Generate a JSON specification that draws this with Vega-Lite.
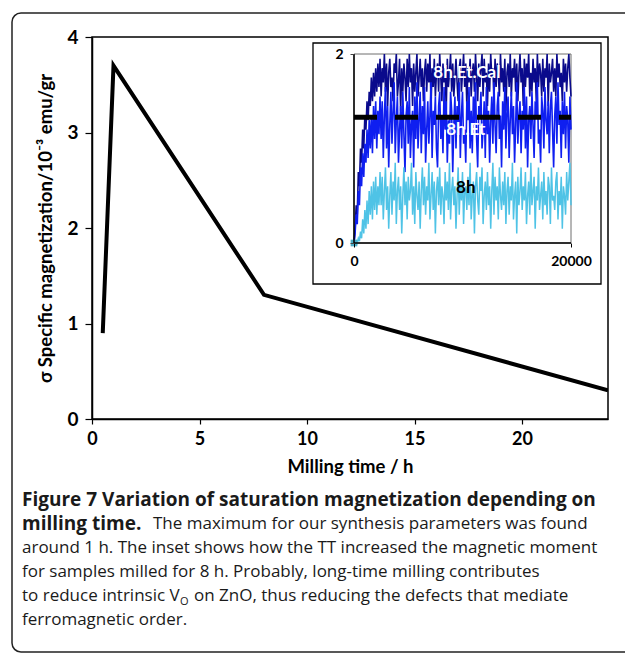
{
  "$schema": "https://vega.github.io/schema/vega-lite/v6.json",
  "width": 516,
  "height": 382,
  "autosize": {"type": "none"},
  "padding": {"left": 92, "top": 37, "right": 17, "bottom": 237},
  "background": "white",
  "config": {
    "view": {"stroke": "black", "strokeWidth": 1.5},
    "font": "Lato",
    "text": {"font": "Lato"}
  },
  "datasets": {
    "main": [
      {"hours": 0.5, "sigma": 0.9},
      {"hours": 1, "sigma": 3.7},
      {"hours": 8, "sigma": 1.3},
      {"hours": 24, "sigma": 0.3}
    ],
    "inset": [
      {"t": 0, "cal": 0, "et": 0, "h": 0},
      {"t": 100, "cal": 0.15, "et": 0.1, "h": 0},
      {"t": 200, "cal": 0.4, "et": 0.3, "h": 0.02},
      {"t": 300, "cal": 0.3, "et": 0.2, "h": 0},
      {"t": 400, "cal": 0.75, "et": 0.55, "h": 0.05},
      {"t": 500, "cal": 0.6, "et": 0.4, "h": 0.02},
      {"t": 600, "cal": 1.0, "et": 0.8, "h": 0.12},
      {"t": 700, "cal": 0.85, "et": 0.6, "h": 0.05},
      {"t": 800, "cal": 1.2, "et": 0.95, "h": 0.25},
      {"t": 900, "cal": 1.0, "et": 0.7, "h": 0.1},
      {"t": 1000, "cal": 1.35, "et": 1.05, "h": 0.35},
      {"t": 1100, "cal": 1.2, "et": 0.85, "h": 0.15},
      {"t": 1200, "cal": 1.5, "et": 1.2, "h": 0.45},
      {"t": 1300, "cal": 1.3, "et": 0.9, "h": 0.2},
      {"t": 1400, "cal": 1.6, "et": 1.3, "h": 0.55},
      {"t": 1500, "cal": 1.45, "et": 1.0, "h": 0.3},
      {"t": 1600, "cal": 1.75, "et": 1.35, "h": 0.6},
      {"t": 1700, "cal": 1.5, "et": 0.95, "h": 0.25},
      {"t": 1800, "cal": 1.8, "et": 1.45, "h": 0.65},
      {"t": 1900, "cal": 1.55, "et": 1.1, "h": 0.35},
      {"t": 2000, "cal": 1.85, "et": 1.5, "h": 0.7},
      {"t": 2100, "cal": 1.6, "et": 1.0, "h": 0.3},
      {"t": 2200, "cal": 1.9, "et": 1.4, "h": 0.6},
      {"t": 2300, "cal": 1.65, "et": 1.15, "h": 0.4},
      {"t": 2400, "cal": 1.95, "et": 1.55, "h": 0.75},
      {"t": 2500, "cal": 1.55, "et": 1.1, "h": 0.4},
      {"t": 2600, "cal": 1.85, "et": 1.5, "h": 0.7},
      {"t": 2700, "cal": 1.7, "et": 0.9, "h": 0.25},
      {"t": 2800, "cal": 2.0, "et": 1.35, "h": 0.55},
      {"t": 2900, "cal": 1.6, "et": 1.65, "h": 0.8},
      {"t": 3000, "cal": 1.9, "et": 1.0, "h": 0.35},
      {"t": 3100, "cal": 1.45, "et": 1.45, "h": 0.6},
      {"t": 3200, "cal": 1.8, "et": 0.8, "h": 0.15},
      {"t": 3300, "cal": 1.95, "et": 1.25, "h": 0.5},
      {"t": 3400, "cal": 1.65, "et": 1.6, "h": 0.75},
      {"t": 3500, "cal": 1.75, "et": 1.05, "h": 0.3},
      {"t": 3600, "cal": 1.5, "et": 1.4, "h": 0.65},
      {"t": 3700, "cal": 1.9, "et": 1.7, "h": 0.45},
      {"t": 3800, "cal": 1.8, "et": 0.95, "h": 0.85},
      {"t": 3900, "cal": 2.0, "et": 1.3, "h": 0.2},
      {"t": 4000, "cal": 1.55, "et": 1.55, "h": 0.55},
      {"t": 4100, "cal": 1.7, "et": 0.85, "h": 0.7},
      {"t": 4200, "cal": 1.95, "et": 1.2, "h": 0.35},
      {"t": 4300, "cal": 1.4, "et": 1.45, "h": 0.6},
      {"t": 4400, "cal": 1.85, "et": 1.0, "h": 0.1},
      {"t": 4500, "cal": 1.6, "et": 1.6, "h": 0.5},
      {"t": 4600, "cal": 1.9, "et": 1.15, "h": 0.8},
      {"t": 4700, "cal": 1.75, "et": 0.75, "h": 0.4},
      {"t": 4800, "cal": 1.5, "et": 1.35, "h": 0.65},
      {"t": 4900, "cal": 1.95, "et": 1.5, "h": 0.25},
      {"t": 5000, "cal": 1.65, "et": 1.05, "h": 0.7},
      {"t": 5100, "cal": 2.0, "et": 1.65, "h": 0.45},
      {"t": 5200, "cal": 1.7, "et": 0.9, "h": 0.55},
      {"t": 5300, "cal": 1.85, "et": 1.25, "h": 0.85},
      {"t": 5400, "cal": 1.45, "et": 1.4, "h": 0.3},
      {"t": 5500, "cal": 1.9, "et": 0.8, "h": 0.6},
      {"t": 5600, "cal": 1.6, "et": 1.55, "h": 0.2},
      {"t": 5700, "cal": 1.8, "et": 1.1, "h": 0.75},
      {"t": 5800, "cal": 2.0, "et": 1.7, "h": 0.5},
      {"t": 5900, "cal": 1.55, "et": 1.0, "h": 0.35},
      {"t": 6000, "cal": 1.75, "et": 1.3, "h": 0.65},
      {"t": 6100, "cal": 1.95, "et": 1.6, "h": 0.15},
      {"t": 6200, "cal": 1.65, "et": 0.95, "h": 0.55},
      {"t": 6300, "cal": 1.85, "et": 1.45, "h": 0.8},
      {"t": 6400, "cal": 1.5, "et": 1.15, "h": 0.4},
      {"t": 6500, "cal": 1.8, "et": 1.65, "h": 0.7},
      {"t": 6600, "cal": 1.95, "et": 0.85, "h": 0.3},
      {"t": 6700, "cal": 1.6, "et": 1.2, "h": 0.6},
      {"t": 6800, "cal": 1.9, "et": 1.5, "h": 0.45},
      {"t": 6900, "cal": 1.7, "et": 1.05, "h": 0.85},
      {"t": 7000, "cal": 2.0, "et": 1.35, "h": 0.25},
      {"t": 7100, "cal": 1.45, "et": 1.7, "h": 0.5},
      {"t": 7200, "cal": 1.85, "et": 0.9, "h": 0.75},
      {"t": 7300, "cal": 1.65, "et": 1.4, "h": 0.35},
      {"t": 7400, "cal": 1.95, "et": 1.25, "h": 0.65},
      {"t": 7500, "cal": 1.55, "et": 1.55, "h": 0.1},
      {"t": 7600, "cal": 1.8, "et": 1.0, "h": 0.55},
      {"t": 7700, "cal": 1.9, "et": 0.8, "h": 0.7},
      {"t": 7800, "cal": 1.6, "et": 1.45, "h": 0.4},
      {"t": 7900, "cal": 2.0, "et": 1.6, "h": 0.8},
      {"t": 8000, "cal": 1.75, "et": 1.1, "h": 0.3},
      {"t": 8100, "cal": 1.5, "et": 1.35, "h": 0.6},
      {"t": 8200, "cal": 1.9, "et": 0.95, "h": 0.5},
      {"t": 8300, "cal": 1.7, "et": 1.65, "h": 0.2},
      {"t": 8400, "cal": 1.85, "et": 1.2, "h": 0.75},
      {"t": 8500, "cal": 1.4, "et": 1.5, "h": 0.45},
      {"t": 8600, "cal": 1.95, "et": 0.85, "h": 0.65},
      {"t": 8700, "cal": 1.65, "et": 1.3, "h": 0.35},
      {"t": 8800, "cal": 1.8, "et": 1.05, "h": 0.85},
      {"t": 8900, "cal": 2.0, "et": 1.6, "h": 0.25},
      {"t": 9000, "cal": 1.6, "et": 1.4, "h": 0.55},
      {"t": 9100, "cal": 1.9, "et": 0.75, "h": 0.7},
      {"t": 9200, "cal": 1.55, "et": 1.25, "h": 0.4},
      {"t": 9300, "cal": 1.75, "et": 1.55, "h": 0.6},
      {"t": 9400, "cal": 1.95, "et": 1.0, "h": 0.15},
      {"t": 9500, "cal": 1.7, "et": 1.45, "h": 0.5},
      {"t": 9600, "cal": 1.5, "et": 1.15, "h": 0.8},
      {"t": 9700, "cal": 1.85, "et": 1.7, "h": 0.3},
      {"t": 9800, "cal": 1.95, "et": 0.9, "h": 0.65},
      {"t": 9900, "cal": 1.6, "et": 1.35, "h": 0.45},
      {"t": 10000, "cal": 1.8, "et": 1.6, "h": 0.75},
      {"t": 10100, "cal": 2.0, "et": 1.05, "h": 0.2},
      {"t": 10200, "cal": 1.65, "et": 1.2, "h": 0.55},
      {"t": 10300, "cal": 1.9, "et": 0.85, "h": 0.6},
      {"t": 10400, "cal": 1.45, "et": 1.5, "h": 0.35},
      {"t": 10500, "cal": 1.85, "et": 1.3, "h": 0.7},
      {"t": 10600, "cal": 1.7, "et": 1.65, "h": 0.4},
      {"t": 10700, "cal": 1.95, "et": 1.0, "h": 0.85},
      {"t": 10800, "cal": 1.55, "et": 1.4, "h": 0.25},
      {"t": 10900, "cal": 1.8, "et": 0.95, "h": 0.5},
      {"t": 11000, "cal": 1.9, "et": 1.55, "h": 0.65},
      {"t": 11100, "cal": 1.6, "et": 1.25, "h": 0.1},
      {"t": 11200, "cal": 2.0, "et": 1.7, "h": 0.6},
      {"t": 11300, "cal": 1.75, "et": 1.1, "h": 0.75},
      {"t": 11400, "cal": 1.5, "et": 0.8, "h": 0.45},
      {"t": 11500, "cal": 1.9, "et": 1.45, "h": 0.3},
      {"t": 11600, "cal": 1.65, "et": 1.35, "h": 0.7},
      {"t": 11700, "cal": 1.85, "et": 1.6, "h": 0.55},
      {"t": 11800, "cal": 2.0, "et": 1.0, "h": 0.8},
      {"t": 11900, "cal": 1.55, "et": 1.2, "h": 0.2},
      {"t": 12000, "cal": 1.95, "et": 1.5, "h": 0.5},
      {"t": 12100, "cal": 1.7, "et": 0.9, "h": 0.65},
      {"t": 12200, "cal": 1.8, "et": 1.65, "h": 0.35},
      {"t": 12300, "cal": 1.45, "et": 1.15, "h": 0.75},
      {"t": 12400, "cal": 1.9, "et": 1.4, "h": 0.4},
      {"t": 12500, "cal": 1.6, "et": 0.85, "h": 0.6},
      {"t": 12600, "cal": 2.0, "et": 1.3, "h": 0.15},
      {"t": 12700, "cal": 1.75, "et": 1.55, "h": 0.55},
      {"t": 12800, "cal": 1.85, "et": 1.05, "h": 0.85},
      {"t": 12900, "cal": 1.5, "et": 1.7, "h": 0.3},
      {"t": 13000, "cal": 1.95, "et": 1.25, "h": 0.7},
      {"t": 13100, "cal": 1.65, "et": 0.95, "h": 0.45},
      {"t": 13200, "cal": 1.9, "et": 1.45, "h": 0.6},
      {"t": 13300, "cal": 1.8, "et": 1.6, "h": 0.25},
      {"t": 13400, "cal": 1.55, "et": 1.1, "h": 0.8},
      {"t": 13500, "cal": 2.0, "et": 1.35, "h": 0.5},
      {"t": 13600, "cal": 1.7, "et": 0.8, "h": 0.35},
      {"t": 13700, "cal": 1.85, "et": 1.5, "h": 0.65},
      {"t": 13800, "cal": 1.6, "et": 1.2, "h": 0.4},
      {"t": 13900, "cal": 1.95, "et": 1.65, "h": 0.75},
      {"t": 14000, "cal": 1.4, "et": 1.0, "h": 0.2},
      {"t": 14100, "cal": 1.8, "et": 1.4, "h": 0.55},
      {"t": 14200, "cal": 1.9, "et": 1.55, "h": 0.7},
      {"t": 14300, "cal": 1.65, "et": 0.9, "h": 0.3},
      {"t": 14400, "cal": 2.0, "et": 1.3, "h": 0.6},
      {"t": 14500, "cal": 1.55, "et": 1.6, "h": 0.45},
      {"t": 14600, "cal": 1.85, "et": 1.15, "h": 0.85},
      {"t": 14700, "cal": 1.75, "et": 1.45, "h": 0.25},
      {"t": 14800, "cal": 1.95, "et": 0.85, "h": 0.5},
      {"t": 14900, "cal": 1.6, "et": 1.25, "h": 0.65},
      {"t": 15000, "cal": 1.9, "et": 1.7, "h": 0.1},
      {"t": 15100, "cal": 1.5, "et": 1.05, "h": 0.7},
      {"t": 15200, "cal": 1.8, "et": 1.35, "h": 0.4},
      {"t": 15300, "cal": 2.0, "et": 1.5, "h": 0.55},
      {"t": 15400, "cal": 1.7, "et": 0.95, "h": 0.8},
      {"t": 15500, "cal": 1.85, "et": 1.4, "h": 0.35},
      {"t": 15600, "cal": 1.45, "et": 1.2, "h": 0.6},
      {"t": 15700, "cal": 1.95, "et": 1.65, "h": 0.45},
      {"t": 15800, "cal": 1.65, "et": 1.0, "h": 0.75},
      {"t": 15900, "cal": 1.9, "et": 1.55, "h": 0.2},
      {"t": 16000, "cal": 1.75, "et": 0.8, "h": 0.5},
      {"t": 16100, "cal": 2.0, "et": 1.3, "h": 0.65},
      {"t": 16200, "cal": 1.55, "et": 1.45, "h": 0.3},
      {"t": 16300, "cal": 1.8, "et": 1.1, "h": 0.85},
      {"t": 16400, "cal": 1.6, "et": 1.6, "h": 0.4},
      {"t": 16500, "cal": 1.95, "et": 1.25, "h": 0.55},
      {"t": 16600, "cal": 1.7, "et": 0.9, "h": 0.7},
      {"t": 16700, "cal": 1.85, "et": 1.5, "h": 0.15},
      {"t": 16800, "cal": 1.5, "et": 1.35, "h": 0.6},
      {"t": 16900, "cal": 2.0, "et": 1.7, "h": 0.45},
      {"t": 17000, "cal": 1.65, "et": 1.05, "h": 0.8},
      {"t": 17100, "cal": 1.9, "et": 1.2, "h": 0.35},
      {"t": 17200, "cal": 1.8, "et": 0.85, "h": 0.5},
      {"t": 17300, "cal": 1.55, "et": 1.55, "h": 0.65},
      {"t": 17400, "cal": 1.95, "et": 1.4, "h": 0.25},
      {"t": 17500, "cal": 1.6, "et": 1.0, "h": 0.75},
      {"t": 17600, "cal": 1.85, "et": 1.65, "h": 0.4},
      {"t": 17700, "cal": 1.75, "et": 1.3, "h": 0.55},
      {"t": 17800, "cal": 2.0, "et": 1.15, "h": 0.3},
      {"t": 17900, "cal": 1.45, "et": 1.5, "h": 0.7},
      {"t": 18000, "cal": 1.9, "et": 0.95, "h": 0.6},
      {"t": 18100, "cal": 1.7, "et": 1.45, "h": 0.2},
      {"t": 18200, "cal": 1.8, "et": 1.6, "h": 0.8},
      {"t": 18300, "cal": 1.95, "et": 1.2, "h": 0.45},
      {"t": 18400, "cal": 1.6, "et": 0.8, "h": 0.5},
      {"t": 18500, "cal": 1.85, "et": 1.35, "h": 0.35},
      {"t": 18600, "cal": 1.55, "et": 1.55, "h": 0.65},
      {"t": 18700, "cal": 2.0, "et": 1.05, "h": 0.75},
      {"t": 18800, "cal": 1.75, "et": 1.7, "h": 0.25},
      {"t": 18900, "cal": 1.9, "et": 1.25, "h": 0.55},
      {"t": 19000, "cal": 1.65, "et": 1.4, "h": 0.4},
      {"t": 19100, "cal": 1.8, "et": 0.9, "h": 0.7},
      {"t": 19200, "cal": 1.5, "et": 1.5, "h": 0.15},
      {"t": 19300, "cal": 1.95, "et": 1.15, "h": 0.6},
      {"t": 19400, "cal": 1.7, "et": 1.6, "h": 0.5},
      {"t": 19500, "cal": 1.9, "et": 1.0, "h": 0.3},
      {"t": 19600, "cal": 1.6, "et": 1.45, "h": 0.75},
      {"t": 19700, "cal": 1.85, "et": 1.3, "h": 0.45},
      {"t": 19800, "cal": 2.0, "et": 0.85, "h": 0.65},
      {"t": 19900, "cal": 1.75, "et": 1.55, "h": 0.85},
      {"t": 20000, "cal": 1.55, "et": 1.2, "h": 0.4}
    ],
    "caption": [
      {"line": 1, "seg": "head", "text": "Figure 7 Variation of saturation magnetization depending on"},
      {"line": 2, "seg": "head", "text": "milling time."},
      {"line": 2, "seg": "b2", "text": "The maximum for our synthesis parameters was found"},
      {"line": 3, "seg": "body", "text": "around 1 h. The inset shows how the TT increased the magnetic moment"},
      {"line": 4, "seg": "body", "text": "for samples milled for 8 h. Probably, long-time milling contributes"},
      {"line": 5, "seg": "body", "text": "to reduce intrinsic V"},
      {"line": 5, "seg": "sub", "text": "O"},
      {"line": 5, "seg": "b5", "text": "on ZnO, thus reducing the defects that mediate"},
      {"line": 6, "seg": "body", "text": "ferromagnetic order."}
    ]
  },
  "resolve": {
    "scale": {"x": "independent", "y": "independent"},
    "axis": {"x": "independent", "y": "independent"}
  },
  "layer": [
    {
      "data": {"values": [{"frame": "figure"}]},
      "mark": {"type": "rect", "fill": "white", "fillOpacity": 0, "stroke": "#222222", "strokeWidth": 1.5, "cornerRadius": 9},
      "encoding": {
        "x": {"datum": 0, "type": "quantitative", "scale": {"domain": [0, 1], "range": [-80, 600], "nice": false, "zero": false}, "axis": null},
        "x2": {"datum": 1},
        "y": {"datum": 0, "type": "quantitative", "scale": {"domain": [0, 1], "range": [615, -24], "nice": false, "zero": false}, "axis": null},
        "y2": {"datum": 1}
      }
    },
    {
      "data": {"name": "main"},
      "mark": {"type": "line", "color": "black", "strokeWidth": 4, "strokeJoin": "miter", "clip": true},
      "encoding": {
        "x": {
          "field": "hours", "type": "quantitative",
          "scale": {"domain": [0, 24], "nice": false, "zero": false},
          "axis": {
            "orient": "bottom", "values": [0, 5, 10, 15, 20], "title": "Milling time / h", "grid": false,
            "labelFlush": false, "domainColor": "black", "domainWidth": 1.5, "tickColor": "black", "tickWidth": 1.2, "tickSize": 5,
            "labelFont": "Lato", "labelFontSize": 18, "labelFontWeight": "bold", "labelColor": "black", "labelPadding": 6,
            "titleFont": "Lato", "titleFontSize": 18.5, "titleFontWeight": "bold", "titleColor": "black", "titlePadding": 9
          }
        },
        "y": {
          "field": "sigma", "type": "quantitative",
          "scale": {"domain": [0, 4], "nice": false},
          "axis": {
            "orient": "left", "values": [0, 1, 2, 3, 4], "title": "σ Specific magnetization/10⁻³ emu/gr", "grid": false,
            "domainColor": "black", "domainWidth": 1.5, "tickColor": "black", "tickWidth": 1.2, "tickSize": 7,
            "labelFont": "Lato", "labelFontSize": 19, "labelFontWeight": "bold", "labelColor": "black", "labelPadding": 7,
            "titleFont": "Lato", "titleFontSize": 18.5, "titleFontWeight": "bold", "titleColor": "black", "titlePadding": 11
          }
        }
      }
    },
    {
      "data": {"values": [{"frame": "inset"}]},
      "mark": {"type": "rect", "fill": "white", "stroke": "black", "strokeWidth": 1.3},
      "encoding": {
        "x": {"datum": 0, "type": "quantitative", "scale": {"domain": [0, 1], "range": [221, 509], "nice": false, "zero": false}, "axis": null},
        "x2": {"datum": 1},
        "y": {"datum": 0, "type": "quantitative", "scale": {"domain": [0, 1], "range": [247, 6], "nice": false, "zero": false}, "axis": null},
        "y2": {"datum": 1}
      }
    },
    {
      "layer": [
        {
          "data": {"values": [{"frame": "plot"}]},
          "mark": {"type": "rect", "fill": "white", "fillOpacity": 0, "stroke": "#6e6e6e", "strokeWidth": 1},
          "encoding": {
            "x": {"datum": 0, "type": "quantitative", "scale": {"domain": [0, 20000], "range": [262, 479], "nice": false, "zero": false},
              "axis": {
                "orient": "bottom", "offset": -176, "zindex": 2, "values": [0, 20000], "format": "d", "title": null, "grid": false, "domain": false,
                "labelFlush": false, "tickColor": "black", "tickSize": 4, "labelPadding": 7,
                "labelFont": "Lato", "labelFontSize": 14, "labelFontWeight": "bold", "labelColor": "black"
              }
            },
            "x2": {"datum": 20000},
            "y": {"datum": 0, "type": "quantitative", "scale": {"domain": [0, 2], "range": [206, 17], "nice": false, "zero": false},
              "axis": {
                "orient": "left", "offset": -262, "zindex": 2, "values": [0, 1, 2], "format": "d", "title": null, "grid": false, "domain": false,
                "tickColor": "#444444", "tickSize": 4, "labelPadding": 7,
                "labelFont": "Lato", "labelFontSize": 14, "labelFontWeight": "bold", "labelColor": "black"
              }
            },
            "y2": {"datum": 2}
          }
        },
        {
          "data": {"name": "inset"},
          "mark": {"type": "line", "color": "#0a0a8c", "strokeWidth": 1.6},
          "encoding": {
            "x": {"field": "t", "type": "quantitative"},
            "y": {"field": "cal", "type": "quantitative"}
          }
        },
        {
          "data": {"name": "inset"},
          "mark": {"type": "line", "color": "#0f1ff0", "strokeWidth": 1.6},
          "encoding": {
            "x": {"field": "t", "type": "quantitative"},
            "y": {"field": "et", "type": "quantitative"}
          }
        },
        {
          "data": {"name": "inset"},
          "mark": {"type": "line", "color": "#4fc3e6", "strokeWidth": 1.5},
          "encoding": {
            "x": {"field": "t", "type": "quantitative"},
            "y": {"field": "h", "type": "quantitative"}
          }
        },
        {
          "data": {"values": [{"t": 0, "v": 0}]},
          "mark": {"type": "point", "shape": "square", "filled": true, "color": "#4bacc6", "size": 45, "opacity": 1},
          "encoding": {
            "x": {"field": "t", "type": "quantitative"},
            "y": {"field": "v", "type": "quantitative"}
          }
        },
        {
          "data": {"values": [{"level": 1.33}]},
          "mark": {"type": "rule", "color": "black", "strokeWidth": 5, "strokeDash": [23, 18]},
          "encoding": {
            "x": {"datum": 0, "type": "quantitative"},
            "x2": {"datum": 20000},
            "y": {"field": "level", "type": "quantitative"}
          }
        },
        {
          "data": {"values": [{"axis": "y"}]},
          "mark": {"type": "rule", "color": "black", "strokeWidth": 1.5},
          "encoding": {
            "x": {"datum": 0, "type": "quantitative"},
            "y": {"datum": 0, "type": "quantitative"},
            "y2": {"datum": 2}
          }
        },
        {
          "data": {"values": [{"axis": "x"}]},
          "mark": {"type": "rule", "color": "black", "strokeWidth": 1.5},
          "encoding": {
            "x": {"datum": 0, "type": "quantitative"},
            "x2": {"datum": 20000},
            "y": {"datum": 0, "type": "quantitative"}
          }
        },
        {
          "data": {"values": [{"t": 10400, "v": 1.8, "label": "8h.Et.Cal"}, {"t": 10300, "v": 1.2, "label": "8h.Et"}]},
          "mark": {"type": "text", "color": "white", "font": "Lato", "fontSize": 17, "fontWeight": "bold", "align": "center", "baseline": "middle"},
          "encoding": {
            "x": {"field": "t", "type": "quantitative"},
            "y": {"field": "v", "type": "quantitative"},
            "text": {"field": "label"}
          }
        },
        {
          "data": {"values": [{"t": 10300, "v": 0.58, "label": "8h"}]},
          "mark": {"type": "text", "color": "black", "font": "Lato", "fontSize": 17, "fontWeight": "bold", "align": "center", "baseline": "middle"},
          "encoding": {
            "x": {"field": "t", "type": "quantitative"},
            "y": {"field": "v", "type": "quantitative"},
            "text": {"field": "label"}
          }
        }
      ]
    },
    {
      "data": {"name": "caption"},
      "encoding": {
        "x": {"datum": 0, "type": "quantitative", "scale": {"domain": [0, 1], "range": [-70, 446], "nice": false, "zero": false}, "axis": null},
        "y": {"field": "line", "type": "quantitative", "scale": {"domain": [1, 6], "range": [463, 583], "nice": false, "zero": false}, "axis": null},
        "text": {"field": "text"}
      },
      "layer": [
        {
          "transform": [{"filter": "datum.seg == 'head'"}],
          "mark": {"type": "text", "align": "left", "baseline": "middle", "font": "Open Sans", "fontSize": 19, "fontWeight": "bold", "color": "#1a1a1a"}
        },
        {
          "transform": [{"filter": "datum.seg == 'body'"}],
          "mark": {"type": "text", "align": "left", "baseline": "middle", "font": "Open Sans", "fontSize": 17, "color": "#1a1a1a"}
        },
        {
          "transform": [{"filter": "datum.seg == 'b2'"}],
          "mark": {"type": "text", "align": "left", "baseline": "middle", "font": "Open Sans", "fontSize": 17, "color": "#1a1a1a", "dx": 131}
        },
        {
          "transform": [{"filter": "datum.seg == 'sub'"}],
          "mark": {"type": "text", "align": "left", "baseline": "middle", "font": "Open Sans", "fontSize": 11, "color": "#1a1a1a", "dx": 158, "dy": 6}
        },
        {
          "transform": [{"filter": "datum.seg == 'b5'"}],
          "mark": {"type": "text", "align": "left", "baseline": "middle", "font": "Open Sans", "fontSize": 17, "color": "#1a1a1a", "dx": 172}
        }
      ]
    }
  ]
}
